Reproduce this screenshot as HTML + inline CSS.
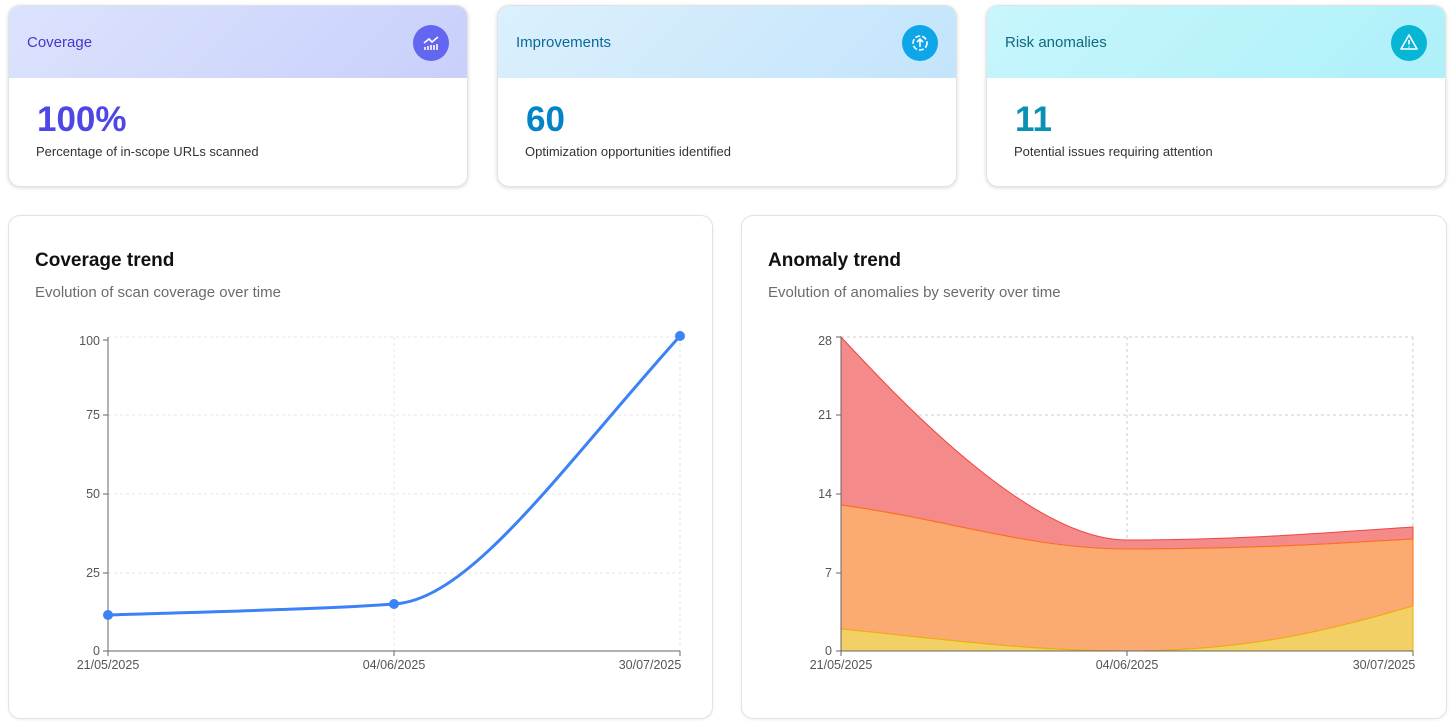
<!DOCTYPE html>
<html><head><meta charset="utf-8"><style>
body{margin:0;width:1452px;height:722px;background:#fff;font-family:"Liberation Sans",sans-serif;position:relative;overflow:hidden}
.card{position:absolute;top:5px;width:458px;height:180px;border:1px solid #e2e2e2;border-radius:12px;box-shadow:0 1px 4px rgba(0,0,0,.15);overflow:hidden;background:#fff}
.hd{height:72px;position:relative}
.hd span{position:absolute;left:18px;top:28px;font-size:15px}
.ic{position:absolute;right:18px;top:19px;width:36px;height:36px;border-radius:50%}
.big{position:absolute;left:28px;top:94px;font-size:35px;font-weight:bold}
.sub{position:absolute;left:27px;top:138px;font-size:13px;color:#333}
.panel{position:absolute;top:215px;height:502px;border:1px solid #e2e2e2;border-radius:12px;box-shadow:0 1px 3px rgba(0,0,0,.06);background:#fff}
.panel h2{position:absolute;left:26px;top:34px;margin:0;font-size:19px;color:#111;font-weight:600}
.panel p{position:absolute;left:26px;top:68px;margin:0;font-size:15px;color:#6b6b6b}
svg text{font-family:"Liberation Sans",sans-serif;font-size:12.5px;fill:#555}
</style></head><body>
<div class="card" style="left:8px"><div class="hd" style="background:linear-gradient(135deg,#dce3fd,#c8d0fb)"><span style="color:#4338ca">Coverage</span><div class="ic" style="background:#6366f1"><svg width="36" height="36"><g stroke="#fff" stroke-width="1.6" fill="none"><path d="M11 18l5-4 3 3 6-5"/><path d="M12 25v-3M15 25v-4M18 25v-5M21 25v-5M24 25v-6"/></g></svg></div></div><div class="big" style="color:#4f46e5">100%</div><div class="sub">Percentage of in-scope URLs scanned</div></div>
<div class="card" style="left:497px"><div class="hd" style="background:linear-gradient(135deg,#dcf0fd,#c3e4fb)"><span style="color:#0b6a9a">Improvements</span><div class="ic" style="background:#0ea5e9"><svg width="36" height="36"><circle cx="18" cy="18" r="7" stroke="#fff" stroke-width="1.6" fill="none" stroke-dasharray="5 2"/><path d="M18 22v-7M15 17l3-3 3 3" stroke="#fff" stroke-width="1.6" fill="none"/></svg></div></div><div class="big" style="color:#0284c7">60</div><div class="sub">Optimization opportunities identified</div></div>
<div class="card" style="left:986px"><div class="hd" style="background:linear-gradient(135deg,#c8f6fc,#aef0f9)"><span style="color:#0e6a7e">Risk anomalies</span><div class="ic" style="background:#06b6d4"><svg width="36" height="36"><path d="M18 10l8 14H10z" stroke="#fff" stroke-width="1.6" fill="none" stroke-linejoin="round"/><path d="M18 15v4.5M18 21.5v1" stroke="#fff" stroke-width="1.6"/></svg></div></div><div class="big" style="color:#0891b2">11</div><div class="sub">Potential issues requiring attention</div></div>

<div class="panel" style="left:8px;width:703px"><h2>Coverage trend</h2><p>Evolution of scan coverage over time</p></div>
<div class="panel" style="left:741px;width:704px"><h2>Anomaly trend</h2><p>Evolution of anomalies by severity over time</p></div>

<svg width="1452" height="722" style="position:absolute;left:0;top:0">
<g stroke="#e5e5e5" stroke-dasharray="3 3" fill="none">
<path d="M108 337H680M108 415H680M108 494H680M108 573H680M394 337V651M680 337V651"/>
</g>
<g stroke="#666" fill="none"><path d="M108 337V651H680"/><path d="M103 340h5M103 415h5M103 494h5M103 573h5M103 651h5M108 651v5M394 651v5M680 651v5"/></g>
<g text-anchor="end"><text x="100" y="345">100</text><text x="100" y="419">75</text><text x="100" y="498">50</text><text x="100" y="577">25</text><text x="100" y="655">0</text></g>
<g text-anchor="middle"><text x="108" y="669">21/05/2025</text><text x="394" y="669">04/06/2025</text><text x="650" y="669">30/07/2025</text></g>
<path d="M108 615C200 612 330 609 394 604C470 600 560 470 680 336" stroke="#3b82f6" stroke-width="3" fill="none"/>
<g fill="#3b82f6"><circle cx="108" cy="615" r="5"/><circle cx="394" cy="604" r="5"/><circle cx="680" cy="336" r="5"/></g>

<g stroke="#ccc" stroke-dasharray="3 3" fill="none">
<path d="M841 337H1413M841 415H1413M841 494H1413M841 573H1413M1127 337V651M1413 337V651"/>
</g>
<path d="M841 337C900 400 1030 540 1127 540C1250 540 1330 532 1413 527L1413 539C1330 544 1250 549 1127 549C1030 549 950 520 841 505Z" fill="#f48a8a" stroke="#ef4444" stroke-width="1"/>
<path d="M841 505C950 520 1030 549 1127 549C1250 549 1330 544 1413 539L1413 606C1330 630 1250 651 1127 651C1030 651 950 640 841 629Z" fill="#fbaa72" stroke="#f97316" stroke-width="1"/>
<path d="M841 629C950 640 1030 651 1127 651C1250 651 1330 630 1413 606L1413 651H841Z" fill="#f3d066" stroke="#eab308" stroke-width="1"/>
<g stroke="#666" fill="none"><path d="M841 337V651H1413"/><path d="M836 337h5M836 415h5M836 494h5M836 573h5M836 651h5M841 651v5M1127 651v5M1413 651v5"/></g>
<g text-anchor="end"><text x="832" y="345">28</text><text x="832" y="419">21</text><text x="832" y="498">14</text><text x="832" y="577">7</text><text x="832" y="655">0</text></g>
<g text-anchor="middle"><text x="841" y="669">21/05/2025</text><text x="1127" y="669">04/06/2025</text><text x="1384" y="669">30/07/2025</text></g>
</svg>
</body></html>
